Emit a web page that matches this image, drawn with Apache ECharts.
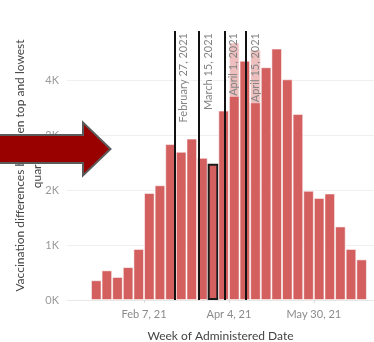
<!DOCTYPE html>
<html>
<head>
<meta charset="utf-8">
<script src="https://cdn.jsdelivr.net/npm/echarts@6/dist/echarts.min.js"></script>
<style>
  html, body { margin: 0; padding: 0; background: #fff; }
  #chart { width: 374px; height: 342px; }
</style>
</head>
<body>
<div id="chart"></div>
<script>
// Weekly gap in vaccinations between the top and lowest quartiles
const weekStarts = [
  '2021-01-03', '2021-01-10', '2021-01-17', '2021-01-24', '2021-01-31',
  '2021-02-07', '2021-02-14', '2021-02-21', '2021-02-28', '2021-03-07',
  '2021-03-14', '2021-03-21', '2021-03-28', '2021-04-04', '2021-04-11',
  '2021-04-18', '2021-04-25', '2021-05-02', '2021-05-09', '2021-05-16',
  '2021-05-23', '2021-05-30', '2021-06-06', '2021-06-13', '2021-06-20',
  '2021-06-27'
];
const gapValues = [
  360, 540, 420, 600, 930,
  1950, 2090, 2840, 2700, 2940,
  2590, 2480, 3450, 4690, 4360,
  4560, 4240, 4580, 4020, 3390,
  1990, 1860, 1940, 1340, 930,
  740
];
// Week whose bar is outlined
const outlinedWeek = '2021-03-21';

const refDates = ['2021-02-27', '2021-03-15', '2021-04-01', '2021-04-15'];
const refLabels = ['February 27, 2021', 'March 15, 2021', 'April 1, 2021', 'April 15, 2021'];

const tickDates = ['2021-02-07', '2021-04-04', '2021-05-30'];
const yTicks = [0, 1000, 2000, 3000, 4000];

const DAY = 86400000;
const MONTHS = ['Jan', 'Feb', 'Mar', 'Apr', 'May', 'Jun', 'Jul', 'Aug', 'Sep', 'Oct', 'Nov', 'Dec'];
const toTs = s => { const p = s.split('-').map(Number); return Date.UTC(p[0], p[1] - 1, p[2]); };
const fmtTick = ts => { const d = new Date(ts); return MONTHS[d.getUTCMonth()] + ' ' + d.getUTCDate() + ', ' + String(d.getUTCFullYear()).slice(2); };

const FONT = 'Lato, "Noto Sans", sans-serif';

// each weekly bar spans its whole week, so it is centred half a week after the start
const barData = weekStarts.map((w, i) => {
  const item = { value: [toTs(w) + 3.5 * DAY, gapValues[i]] };
  if (w === outlinedWeek) {
    item.itemStyle = { borderColor: '#1a1a1a', borderWidth: 2 };
  }
  return item;
});

const refLineData = refDates.map((d, i) => ({
  xAxis: toTs(d),
  label: { formatter: refLabels[i] }
}));

const chart = echarts.init(document.getElementById('chart'), null, { renderer: 'canvas' });
chart.setOption({
  animation: false,
  textStyle: { fontFamily: FONT },
  grid: { left: 67, right: 0, top: 31, bottom: 42, containLabel: false, outerBoundsMode: 'none' },
  xAxis: {
    type: 'value',
    min: Date.UTC(2020, 11, 18, 5),
    max: Date.UTC(2021, 6, 8, 16),
    name: 'Week of Administered Date',
    nameLocation: 'middle',
    nameGap: 30,
    nameMoveOverlap: false,
    nameTextStyle: { color: '#444', fontSize: 12, fontFamily: FONT },
    axisLine: { show: true, lineStyle: { color: '#e8e8e8', width: 1 } },
    axisTick: { show: true, customValues: tickDates.map(toTs), length: 3, lineStyle: { color: '#ddd' } },
    axisLabel: {
      customValues: tickDates.map(toTs),
      formatter: v => fmtTick(v),
      color: '#8a8a8a', fontSize: 11, fontFamily: FONT, margin: 9
    },
    splitLine: { show: false }
  },
  yAxis: {
    type: 'value',
    min: 0,
    max: 4900,
    interval: 1000,
    name: 'Vaccination differences between top and lowest\nquartiles',
    nameLocation: 'middle',
    nameRotate: 90,
    nameGap: 21,
    nameMoveOverlap: false,
    nameTextStyle: { color: '#444', fontSize: 12, lineHeight: 17, fontFamily: FONT, align: 'center' },
    axisLine: { show: false },
    axisTick: { show: false },
    axisLabel: {
      formatter: v => (yTicks.indexOf(v) >= 0 ? (v / 1000) + 'K' : ''),
      color: '#9a9a9a', fontSize: 11, fontFamily: FONT, margin: 8
    },
    splitLine: { show: true, showMaxLine: false, lineStyle: { color: '#f0f0f0', width: 1 } }
  },
  series: [{
    type: 'bar',
    data: barData,
    barWidth: '100%',
    itemStyle: { color: '#d35f5f', borderColor: 'rgba(255,255,255,0.55)', borderWidth: 1 },
    markLine: {
      silent: true,
      symbol: 'none',
      z: 5,
      lineStyle: { color: '#111', width: 2, type: 'solid' },
      label: {
        show: true,
        position: 'insideEndBottom',
        distance: [1, 4],
        color: '#858585',
        fontSize: 11,
        fontFamily: FONT,
        backgroundColor: 'rgba(255,255,255,0.6)',
        padding: [0, 1]
      },
      data: refLineData
    }
  }],
  graphic: [{
    type: 'polygon',
    z: 100,
    shape: {
      points: [[-3, 135], [83, 135], [83, 122.5], [110.5, 149], [83, 175.5], [83, 163], [-3, 163]]
    },
    style: { fill: '#990000', stroke: '#5a5a5a', lineWidth: 2 }
  }]
});
</script>
</body>
</html>
